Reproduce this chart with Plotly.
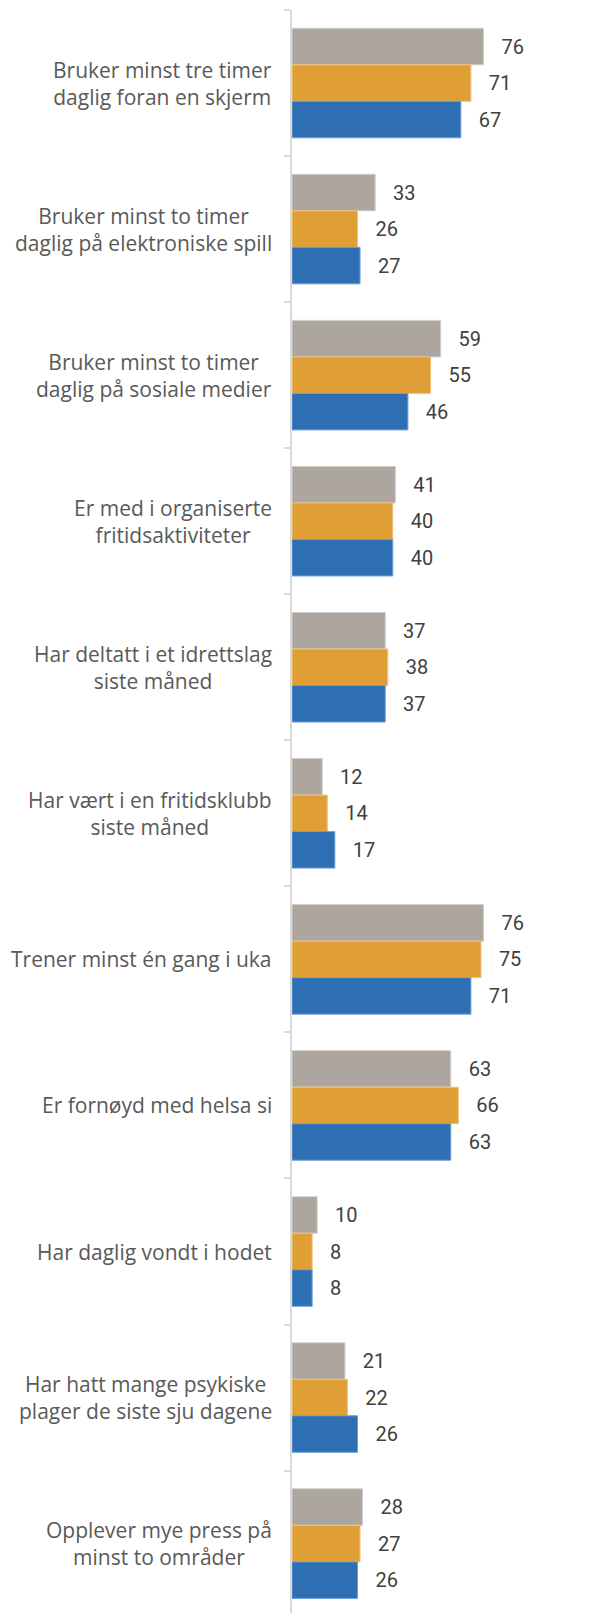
import plotly.graph_objects as go

categories = [
    "Bruker minst tre timer<br>daglig foran en skjerm",
    "Bruker minst to timer<br>daglig på elektroniske spill",
    "Bruker minst to timer<br>daglig på sosiale medier",
    "Er med i organiserte<br>fritidsaktiviteter",
    "Har deltatt i et idrettslag<br>siste måned",
    "Har vært i en fritidsklubb<br>siste måned",
    "Trener minst én gang i uka",
    "Er fornøyd med helsa si",
    "Har daglig vondt i hodet",
    "Har hatt mange psykiske<br>plager de siste sju dagene",
    "Opplever mye press på<br>minst to områder",
]

series_names = ["Serie 1", "Serie 2", "Serie 3"]
values_grey = [76, 33, 59, 41, 37, 12, 76, 63, 10, 21, 28]
values_orange = [71, 26, 55, 40, 38, 14, 75, 66, 8, 22, 27]
values_blue = [67, 27, 46, 40, 37, 17, 71, 63, 8, 26, 26]

fills = ["#ada69f", "#e09e36", "#2e6fb4"]
edges = ["#d2cdc8", "#f0c27a", "#6f9fd6"]

fig = go.Figure()
for name, vals, fill, edge in zip(series_names,
                                  [values_grey, values_orange, values_blue],
                                  fills, edges):
    fig.add_trace(go.Bar(
        y=list(range(len(categories))),
        x=vals,
        name=name,
        orientation="h",
        marker=dict(color=fill, line=dict(color=edge, width=1)),
        text=vals,
        texttemplate="\u00a0\u00a0\u00a0%{x}",
        textposition="outside",
        constraintext="none",
        cliponaxis=False,
        textfont=dict(family="Roboto", size=20, color="#404040"),
    ))

# Category labels: centred lines, right-aligned block next to the axis
for i, cat in enumerate(categories):
    fig.add_annotation(
        x=0, xref="paper", xanchor="right", xshift=-18,
        y=i, yref="y", yanchor="middle",
        text=cat, showarrow=False, align="center",
        font=dict(family="Open Sans", size=21, color="#595959"),
    )

fig.update_layout(
    width=615, height=1613,
    margin=dict(l=292, r=71, t=10, b=0),
    barmode="group",
    bargap=0.25,
    bargroupgap=0,
    showlegend=False,
    plot_bgcolor="white",
    paper_bgcolor="white",
    xaxis=dict(range=[0, 100], visible=False, showgrid=False, zeroline=False),
    yaxis=dict(
        range=[len(categories) - 0.525, -0.5],
        tickmode="array",
        tickvals=[i - 0.5 for i in range(len(categories) + 1)],
        ticktext=[""] * (len(categories) + 1),
        ticks="outside", ticklen=6, tickwidth=2, tickcolor="#d9d9d9",
        showline=True, linecolor="#d9d9d9", linewidth=2,
        showgrid=False, zeroline=False,
    ),
)

fig.write_html("out.html")
